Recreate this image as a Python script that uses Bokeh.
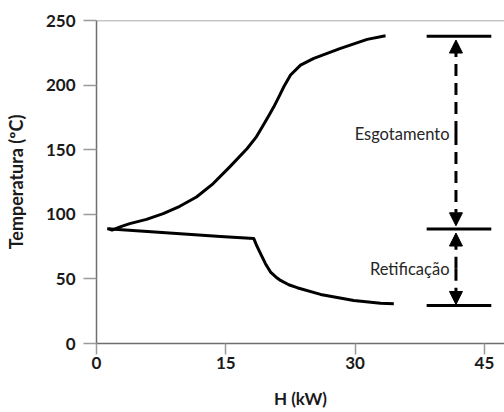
from bokeh.plotting import figure
from bokeh.models import Range1d, FixedTicker, Span, Arrow, NormalHead, Label
from bokeh.embed import file_html
from bokeh.resources import INLINE

# Data
upper_h = [1.4, 1.8, 2.9, 3.86, 5.80, 7.74, 9.66, 11.60, 13.54, 15.46, 17.48, 18.5, 19.34,
           20.0, 20.57, 21.2, 21.73, 22.51, 23.67, 25.21, 28.31, 31.40, 33.53]
upper_t = [88.9, 87.8, 90.7, 92.8, 96.1, 100.5, 106.2, 113.4, 123.8, 136.7, 150.9, 159.5, 169.0,
           176.5, 183.2, 191.5, 198.7, 207.8, 215.5, 220.7, 228.4, 235.4, 238.2]
lower_h = [1.24, 14.39, 18.25, 18.6, 19.03, 19.6, 20.19, 20.8, 21.35, 22.3, 23.28, 25.99,
           29.85, 32.95, 34.49]
lower_t = [88.9, 82.9, 81.2, 75.5, 69.5, 61.8, 55.3, 51.5, 48.8, 45.5, 43.2, 38.0,
           33.3, 31.2, 30.8]

levels_t = [237.8, 88.6, 29.5]     # horizontal marker lines
levels_x0 = 38.3
levels_x1 = 45.8
arrow_x = 41.7
esg_arrow = (234.9, 91.1)
ret_arrow = (85.5, 30.2)

x_ticks = [0, 15, 30, 45]
y_ticks = [0, 50, 100, 150, 200, 250]

FONT = "Lato"

p = figure(width=504, height=412, output_backend="svg", toolbar_location=None,
           x_range=Range1d(0, 47.33), y_range=Range1d(0, 250),
           min_border_left=96, min_border_right=0, min_border_top=20,
           min_border_bottom=69)
p.grid.visible = False
p.outline_line_color = None
p.background_fill_color = "white"
p.border_fill_color = "white"

for ax, ticks in ((p.xaxis[0], x_ticks), (p.yaxis[0], y_ticks)):
    ax.ticker = FixedTicker(ticks=ticks)
    ax.axis_line_color = "#6e6e6e"
    ax.axis_line_width = 1.5
    ax.major_tick_line_color = "#9a9a9a"
    ax.major_tick_line_width = 1.5
    ax.major_tick_in = 0
    ax.minor_tick_line_color = None
    ax.major_label_text_font = FONT
    ax.major_label_text_font_style = "bold"
    ax.major_label_text_font_size = "17px"
    ax.major_label_text_color = "#1a1a1a"
    ax.axis_label_text_font = FONT
    ax.axis_label_text_font_style = "bold"
    ax.axis_label_text_color = "#1a1a1a"

p.xaxis.major_tick_out = 11
p.xaxis.major_label_standoff = 2
p.xaxis.axis_label = "H (kW)"
p.xaxis.axis_label_text_font_size = "17px"
p.xaxis.axis_label_standoff = 16
p.yaxis.major_tick_out = 13
p.yaxis.major_label_standoff = 8
p.yaxis.axis_label = "Temperatura (ºC)"
p.yaxis.axis_label_text_font_size = "18px"
p.yaxis.axis_label_standoff = 16

p.add_layout(Span(location=250, dimension="width", line_color="#8c8c8c", line_width=1.5))

p.line(upper_h, upper_t, line_color="black", line_width=3, line_join="round")
p.line(lower_h, lower_t, line_color="black", line_width=3, line_join="round")

for t in levels_t:
    p.segment(x0=[levels_x0], y0=[t], x1=[levels_x1], y1=[t], line_color="black", line_width=3)

for (a, b) in (esg_arrow, ret_arrow):
    for tip in (a, b):
        p.add_layout(Arrow(x_start=arrow_x, y_start=(a + b) / 2, x_end=arrow_x, y_end=tip,
                           line_width=3, line_dash="12 7", line_color="black",
                           end=NormalHead(size=13, fill_color="black", line_color="black")))

p.add_layout(Label(x=40.95, y=162.0, text="Esgotamento", text_align="right",
                   text_baseline="middle", text_font=FONT, text_font_size="16.5px",
                   text_color="#262626"))
p.add_layout(Label(x=40.95, y=57.6, text="Retificação", text_align="right",
                   text_baseline="middle", text_font=FONT, text_font_size="16.5px",
                   text_color="#262626"))

open("out.html", "w").write(file_html(p, INLINE))
